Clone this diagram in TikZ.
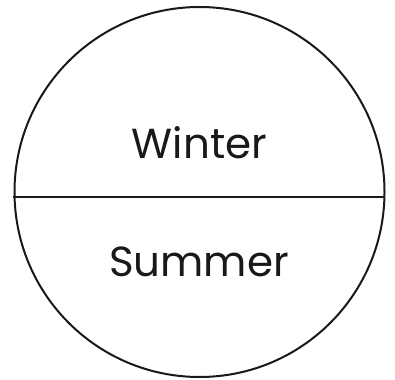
\documentclass[tikz,border=0pt]{standalone}
\usepackage{fontspec}
\setmainfont{Poppins}
\begin{document}
\begin{tikzpicture}[x=1pt,y=-1pt,
  outline/.style={line width=2pt,draw=black!90},
  label/.style={font=\fontsize{42}{48}\selectfont, text=black!90, inner sep=0pt}]
\useasboundingbox (0,0) rectangle (395,379);
\node[circle, outline, minimum size=370pt, inner sep=0pt] (c) at (199.5,192) {};
\coordinate (l) at (13,197);
\coordinate (r) at (385,197);
\draw[outline] (l) -- (r);
\node[label] (w) at (199.5,143) {Winter};
\node[label] (s) at (199,262) {Summer};
\end{tikzpicture}
\end{document}
